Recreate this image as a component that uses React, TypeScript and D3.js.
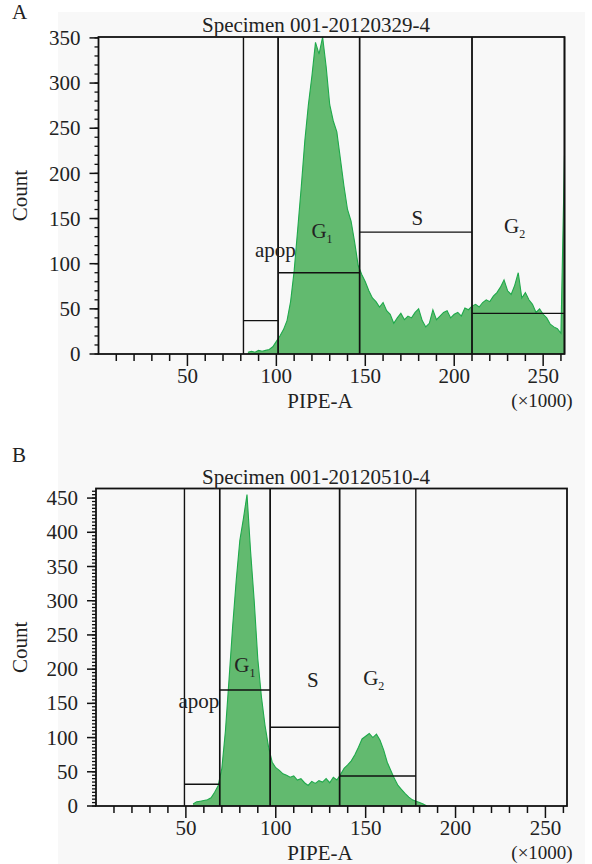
import React, { useRef, useEffect } from "react";
import * as d3 from "d3";

// histogram bins are 2 (x1000) wide on PIPE-A
const binWidth = 2;

// specimen 001-20120329-4 counts, first bin starts at 84
const startA = 84;
const countsA = [
  2, 3, 2, 4, 3, 4, 5, 8, 14, 20, 27, 37, 58, 92, 138, 185, 236, 276, 308, 345,
  332, 352, 318, 276, 258, 246, 216, 186, 160, 147, 124, 98, 88, 80, 70, 62, 58,
  52, 57, 48, 44, 34, 40, 45, 38, 42, 40, 46, 50, 37, 30, 34, 49, 38, 42, 46, 48,
  40, 44, 46, 42, 51, 49, 53, 55, 52, 57, 60, 58, 64, 68, 74, 82, 70, 66, 76, 90,
  62, 68, 60, 55, 46, 50, 44, 40, 33, 30, 28, 23, 220,
];

// specimen 001-20120510-4 counts, first bin starts at 54
const startB = 54;
const countsB = [
  3, 6, 7, 8, 9, 12, 20, 30, 55, 110, 185, 262, 330, 388, 420, 455, 372, 300,
  215, 160, 118, 86, 64, 56, 52, 47, 45, 42, 44, 38, 40, 34, 30, 36, 33, 37, 35,
  40, 34, 42, 38, 46, 55, 60, 66, 75, 86, 98, 102, 106, 100, 105, 96, 82, 64, 52,
  40, 30, 24, 18, 13, 9, 7, 5, 3, 0,
];

// gates: [from, to] on PIPE-A and the level of the marker bar
const gateNames = ["apop", "G1", "S", "G2"];
const gatesA = [
  [81.5, 101, 37],
  [101, 146.8, 90],
  [146.8, 210, 135],
  [210, 262, 45],
];
const gatesB = [
  [49.2, 68.8, 31.7],
  [68.8, 96.9, 169.6],
  [96.9, 135.5, 115],
  [135.5, 177.9, 43.9],
];

const xMajor = [50, 100, 150, 200, 250];
const xMinor = [10, 20, 30, 40, 60, 70, 80, 90, 110, 120, 130, 140, 160, 170, 180, 190, 210, 220, 230, 240, 260];
const yMajorA = [0, 50, 100, 150, 200, 250, 300, 350];
const yMajorB = [0, 50, 100, 150, 200, 250, 300, 350, 400, 450];

const FONT = "'Liberation Serif', 'Times New Roman', serif";

function drawPanel(svg, cfg) {
  const g = svg.append("g");
  const x = d3.scaleLinear().domain([0, 262]).range([cfg.left, cfg.right]);
  const y = d3.scaleLinear().domain([0, cfg.yMax]).range([cfg.bottom, cfg.top]);

  // histogram
  const pts = cfg.counts.map((c, i) => [cfg.start + i * binWidth, c]);
  const area = d3
    .area()
    .x((d) => x(d[0]))
    .y0(y(0))
    .y1((d) => y(Math.min(d[1], cfg.yMax)));
  const line = d3
    .line()
    .x((d) => x(d[0]))
    .y((d) => y(Math.min(d[1], cfg.yMax)));
  g.append("path").attr("d", area(pts)).attr("fill", "#62ba6f");
  g.append("path")
    .attr("d", line(pts))
    .attr("fill", "none")
    .attr("stroke", "#1fa94b")
    .attr("stroke-width", 1.1);

  // gates
  cfg.gates.forEach((gt) => {
    [gt[0], gt[1]].forEach((v) => {
      g.append("line")
        .attr("x1", x(v))
        .attr("x2", x(v))
        .attr("y1", cfg.top)
        .attr("y2", cfg.bottom)
        .attr("stroke", "#111")
        .attr("stroke-width", 1.4);
    });
    g.append("line")
      .attr("x1", x(gt[0]))
      .attr("x2", x(gt[1]))
      .attr("y1", y(gt[2]))
      .attr("y2", y(gt[2]))
      .attr("stroke", "#111")
      .attr("stroke-width", 1.4);
  });

  // frame
  g.append("rect")
    .attr("x", cfg.left)
    .attr("y", cfg.top)
    .attr("width", cfg.right - cfg.left)
    .attr("height", cfg.bottom - cfg.top)
    .attr("fill", "none")
    .attr("stroke", "#111")
    .attr("stroke-width", 1.8);

  // x ticks
  xMinor.forEach((t) => {
    g.append("line")
      .attr("x1", x(t))
      .attr("x2", x(t))
      .attr("y1", cfg.bottom)
      .attr("y2", cfg.bottom + 7)
      .attr("stroke", "#111")
      .attr("stroke-width", 1.5);
  });
  xMajor.forEach((t) => {
    g.append("line")
      .attr("x1", x(t))
      .attr("x2", x(t))
      .attr("y1", cfg.bottom)
      .attr("y2", cfg.bottom + 12)
      .attr("stroke", "#111")
      .attr("stroke-width", 1.5);
    g.append("text")
      .attr("x", x(t))
      .attr("y", cfg.bottom + 29)
      .attr("text-anchor", "middle")
      .text(t);
  });

  // y ticks
  d3.range(0, cfg.yMax, cfg.yMinorStep).forEach((t) => {
    g.append("line")
      .attr("x1", cfg.left)
      .attr("x2", cfg.left - 4)
      .attr("y1", y(t))
      .attr("y2", y(t))
      .attr("stroke", "#111")
      .attr("stroke-width", 1.3);
  });
  cfg.yMajor.forEach((t) => {
    g.append("line")
      .attr("x1", cfg.left)
      .attr("x2", cfg.left - 9)
      .attr("y1", y(t))
      .attr("y2", y(t))
      .attr("stroke", "#111")
      .attr("stroke-width", 1.5);
    g.append("text")
      .attr("x", cfg.left - 18)
      .attr("y", y(t))
      .attr("dy", "0.34em")
      .attr("text-anchor", "end")
      .text(t);
  });

  // titles and axis names
  g.append("text").attr("x", 12).attr("y", cfg.letterY).text(cfg.letter);
  g.append("text")
    .attr("x", 316)
    .attr("y", cfg.top - 5)
    .attr("text-anchor", "middle")
    .text(cfg.title);
  g.append("text")
    .attr("transform", `translate(27,${(cfg.top + cfg.bottom) / 2}) rotate(-90)`)
    .attr("text-anchor", "middle")
    .text("Count");
  g.append("text")
    .attr("x", 320)
    .attr("y", cfg.bottom + 54)
    .attr("text-anchor", "middle")
    .text("PIPE-A");
  g.append("text")
    .attr("x", 542)
    .attr("y", cfg.bottom + 53)
    .attr("text-anchor", "middle")
    .attr("font-size", 19)
    .text("(×1000)");

  // gate names
  cfg.labels.forEach((lb, i) => {
    const name = gateNames[i];
    const t = g
      .append("text")
      .attr("x", x(lb[0]))
      .attr("y", y(lb[1]))
      .attr("text-anchor", name.length === 2 && name[0] === "G" ? "start" : "middle");
    if (name[0] === "G") {
      t.append("tspan").text("G");
      t.append("tspan").attr("font-size", 12).attr("dy", 5).text(name[1]);
    } else {
      t.text(name);
    }
  });
}

export default function App() {
  const svgRef = useRef(null);

  useEffect(() => {
    const svg = d3.select(svgRef.current);
    svg.selectAll("*").remove();
    svg
      .attr("font-family", FONT)
      .attr("font-size", 21)
      .attr("fill", "#222");

    svg.append("rect").attr("width", 592).attr("height", 864).attr("fill", "#ffffff");
    svg
      .append("rect")
      .attr("x", 58)
      .attr("y", 12)
      .attr("width", 527)
      .attr("height", 852)
      .attr("fill", "#f8f8f8");

    drawPanel(svg, {
      letter: "A",
      letterY: 19,
      title: "Specimen 001-20120329-4",
      left: 98.5,
      right: 564.5,
      top: 37,
      bottom: 354,
      yMax: 351,
      yMajor: yMajorA,
      yMinorStep: 10,
      start: startA,
      counts: countsA,
      gates: gatesA,
      labels: [
        [99.4, 107],
        [119.7, 128.5],
        [179.2, 143],
        [228, 134],
      ],
    });
    drawPanel(svg, {
      letter: "B",
      letterY: 462,
      title: "Specimen 001-20120510-4",
      left: 96,
      right: 567,
      top: 488.5,
      bottom: 806,
      yMax: 464,
      yMajor: yMajorB,
      yMinorStep: 5,
      start: startB,
      counts: countsB,
      gates: gatesB,
      labels: [
        [57.2, 143],
        [76.9, 196],
        [120.6, 174],
        [148.6, 177],
      ],
    });
  }, []);

  return (
    <svg
      ref={svgRef}
      width={592}
      height={864}
      style={{ position: "absolute", left: 0, top: 0, display: "block" }}
    ></svg>
  );
}
